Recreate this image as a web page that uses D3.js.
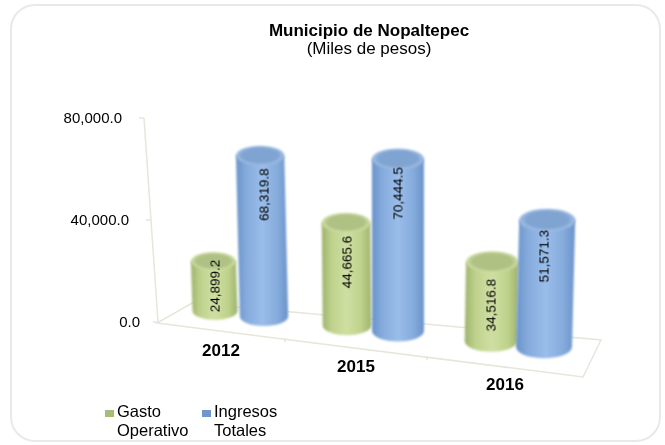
<!DOCTYPE html>
<html lang="en">

<head>
    <meta charset="UTF-8" />
    <title>Municipio de Nopaltepec</title>
    <script src="https://d3js.org/d3.v7.min.js"></script>
    <style>
        html, body { margin: 0; padding: 0; background: #fff; }
        svg { display: block; }
        text { font-family: "Liberation Sans", Arial, sans-serif; fill: #000; }
    </style>
</head>

<body>
    <script>
        // values
        var years = ["2012", "2015", "2016"];
        var seriesNames = ["Gasto Operativo", "Ingresos Totales"];
        var gastoOperativo = [24899.2, 44665.6, 34516.8];
        var ingresosTotales = [68319.8, 70444.5, 51571.3];
        var valueTicks = [0, 40000, 80000];
        var legendLines = [["Gasto", "Operativo"], ["Ingresos", "Totales"]];

        var w = 665;
        var h = 445;

        var svg = d3.select("body").append("svg")
            .attr("width", w)
            .attr("height", h);

        var defs = svg.append("defs");
        defs.append("filter").attr("id", "soft")
            .append("feGaussianBlur").attr("stdDeviation", 0.9);
        defs.append("filter").attr("id", "softText")
            .append("feGaussianBlur").attr("stdDeviation", 0.3);

        // colours for the two series
        var palette = [
            { edge: "#9db36c", mid: "#bfd28c", light: "#cfdfa2", cap: "#b0c184", rim: "#d2e1a8", swatch: "#a9bb78" },
            { edge: "#6a93ca", mid: "#85abdc", light: "#9abdea", cap: "#80a4d2", rim: "#a2c1e6", swatch: "#6f97cc" }
        ];

        palette.forEach(function (c, i) {
            var body = defs.append("linearGradient").attr("id", "body" + i);
            [[0, c.edge], [0.2, c.mid], [0.5, c.light], [0.8, c.mid], [1, c.edge]].forEach(function (s) {
                body.append("stop").attr("offset", s[0]).attr("stop-color", s[1]);
            });
            var cap = defs.append("radialGradient").attr("id", "cap" + i);
            [[0, c.cap], [0.75, c.cap], [1, c.rim]].forEach(function (s) {
                cap.append("stop").attr("offset", s[0]).attr("stop-color", s[1]);
            });
        });

        // scales: the wall axis, and the floor seen in perspective
        var yScale = d3.scaleLinear().domain([0, 80000]).range([322, 118]);
        var wallX = d3.scaleLinear().domain([0, 80000]).range([158, 144]);
        var frontX = d3.scaleLinear().domain([0, 1, 2, 3]).range([157, 285, 427, 583]);
        var frontY = d3.scaleLinear().domain([157, 583]).range([323, 377]);
        var depthX = d3.scaleLinear().domain([0, 1]).range([0, 18]);
        var depthY = d3.scaleLinear().domain([0, 1]).range([0, -37]);

        // position of each cylinder on the floor
        var baseX = d3.scaleLinear().domain([0, 1, 2]).range([215, 347, 491]);
        var seriesX = d3.scalePoint().domain([0, 1]).range([0, 49]);
        var baseY = d3.scaleLinear().domain([215, 544]).range([311, 347]);
        var radius = d3.scaleLinear().domain([215, 544]).range([22.5, 27]);
        var heightScale = d3.scaleLinear().domain([0, 80000]).range([-13, 195]);
        // things closer to the viewer (right side) come out a bit taller
        var nearness = d3.scaleLinear().domain([215, 544]).range([0.965, 1.05]);
        var lean = d3.scaleLinear().domain([0, 170]).range([0, 0.03]);
        // labels do not sit at the middle of the cylinders in the original
        var labelLift = d3.scaleLinear()
            .domain([25000, 35000, 45000, 52000, 68000, 70500])
            .range([0.5, 0.45, 0.62, 0.72, 0.75, 0.8]);

        // card behind the chart
        svg.append("rect")
            .attr("x", 11).attr("y", 5)
            .attr("width", 649).attr("height", 436)
            .attr("rx", 24)
            .attr("fill", "#fff")
            .attr("stroke", "#e9e9e7")
            .attr("stroke-width", 2);

        // title
        var title = svg.append("g").attr("filter", "url(#softText)");
        title.append("text")
            .attr("x", 369).attr("y", 36)
            .attr("text-anchor", "middle")
            .attr("font-size", 17)
            .attr("font-weight", "bold")
            .text("Municipio de Nopaltepec");
        title.append("text")
            .attr("x", 369).attr("y", 54)
            .attr("text-anchor", "middle")
            .attr("font-size", 17)
            .text("(Miles de pesos)");

        // floor and wall lines
        var lineColor = "#e6e6da";
        var frame = svg.append("g").attr("filter", "url(#softText)");

        var floorCorners = [
            [frontX(0), frontY(frontX(0))],
            [frontX(3), frontY(frontX(3))],
            [frontX(3) + depthX(1), frontY(frontX(3)) + depthY(1)],
            [frontX(0) + depthX(1) * 1.95, frontY(frontX(0)) + depthY(1) * 0.54]
        ];
        frame.append("path")
            .attr("d", d3.line()(floorCorners) + "Z")
            .attr("fill", "none")
            .attr("stroke", lineColor)
            .attr("stroke-width", 1.5);

        frame.append("line")
            .attr("x1", wallX(0)).attr("y1", yScale(0))
            .attr("x2", wallX(80000)).attr("y2", yScale(80000))
            .attr("stroke", lineColor)
            .attr("stroke-width", 1.5);

        frame.selectAll(".wall-tick")
            .data(valueTicks)
            .enter().append("line")
            .attr("class", "wall-tick")
            .attr("x1", function (d) { return wallX(d) - 5; })
            .attr("x2", function (d) { return wallX(d); })
            .attr("y1", function (d) { return yScale(d); })
            .attr("y2", function (d) { return yScale(d); })
            .attr("stroke", lineColor)
            .attr("stroke-width", 1.5);

        frame.selectAll(".front-tick")
            .data([1, 2])
            .enter().append("line")
            .attr("class", "front-tick")
            .attr("x1", function (d) { return frontX(d); })
            .attr("x2", function (d) { return frontX(d); })
            .attr("y1", function (d) { return frontY(frontX(d)) - 1; })
            .attr("y2", function (d) { return frontY(frontX(d)) + 3; })
            .attr("stroke", lineColor)
            .attr("stroke-width", 1.5);

        // value labels follow the slanted wall
        var format = d3.format(",.1f");
        svg.append("g").attr("filter", "url(#softText)")
            .selectAll(".value-label")
            .data(valueTicks)
            .enter().append("text")
            .attr("class", "value-label")
            .attr("x", function (d) { return wallX(d) - (d === 0 ? 18 : 22); })
            .attr("y", function (d) { return yScale(d) + 5; })
            .attr("text-anchor", "end")
            .attr("font-size", 15)
            .text(function (d) { return format(d); });

        // cylinders, green then blue so that blue overlaps
        var marks = [];
        years.forEach(function (year, i) {
            [gastoOperativo[i], ingresosTotales[i]].forEach(function (value, s) {
                var x = baseX(i) + seriesX(s) + (s === 1 ? i * 2 : 0);
                var rx = radius(x) + s;
                var height = heightScale(value) * nearness(x);
                marks.push({
                    value: value,
                    series: s,
                    x: x,
                    y: baseY(x),
                    rx: rx,
                    ry: rx * 0.4,
                    height: height,
                    topX: x + (x - 400) * lean(height),
                    topY: baseY(x) - height
                });
            });
        });

        var cylinders = svg.selectAll(".cylinder")
            .data(marks)
            .enter().append("g")
            .attr("class", "cylinder");

        cylinders.append("path")
            .attr("filter", "url(#soft)")
            .attr("fill", function (d) { return "url(#body" + d.series + ")"; })
            .attr("d", function (d) {
                return "M" + (d.topX - d.rx) + "," + d.topY +
                    "L" + (d.x - d.rx) + "," + d.y +
                    "A" + d.rx + "," + d.ry + " 0 0 0 " + (d.x + d.rx) + "," + d.y +
                    "L" + (d.topX + d.rx) + "," + d.topY + "Z";
            });

        cylinders.append("ellipse")
            .attr("filter", "url(#soft)")
            .attr("fill", function (d) { return "url(#cap" + d.series + ")"; })
            .attr("cx", function (d) { return d.topX; })
            .attr("cy", function (d) { return d.topY; })
            .attr("rx", function (d) { return d.rx; })
            .attr("ry", function (d) { return d.ry; });

        cylinders.append("text")
            .attr("filter", "url(#softText)")
            .attr("text-anchor", "middle")
            .attr("font-size", 13.5)
            .attr("transform", function (d) {
                var lift = labelLift(d.value) * d.height;
                return "translate(" + (d.x + 4.5) + "," + (d.y - lift) + ") rotate(-90)";
            })
            .text(function (d) { return format(d.value); });

        // year labels under the floor
        svg.append("g").attr("filter", "url(#softText)")
            .selectAll(".year")
            .data(years)
            .enter().append("text")
            .attr("class", "year")
            .attr("x", function (d, i) { return (frontX(i) + frontX(i + 1)) / 2; })
            .attr("y", function (d, i) { return frontY((frontX(i) + frontX(i + 1)) / 2) + 25 - i; })
            .attr("text-anchor", "middle")
            .attr("font-size", 17)
            .attr("font-weight", "bold")
            .text(function (d) { return d; });

        // legend
        var legendX = d3.scalePoint().domain(seriesNames).range([105, 202]);
        var legend = svg.selectAll(".legend")
            .data(seriesNames)
            .enter().append("g")
            .attr("class", "legend")
            .attr("filter", "url(#softText)")
            .attr("transform", function (d) { return "translate(" + legendX(d) + ",417)"; });

        legend.append("rect")
            .attr("x", 0).attr("y", -7)
            .attr("width", 9).attr("height", 7)
            .attr("fill", function (d, i) { return palette[i].swatch; });

        legend.append("text")
            .attr("x", 12)
            .attr("font-size", 16.5)
            .text(function (d, i) { return legendLines[i][0]; });

        legend.append("text")
            .attr("x", 12)
            .attr("y", 19)
            .attr("font-size", 16.5)
            .text(function (d, i) { return legendLines[i][1]; });
    </script>
</body>

</html>
